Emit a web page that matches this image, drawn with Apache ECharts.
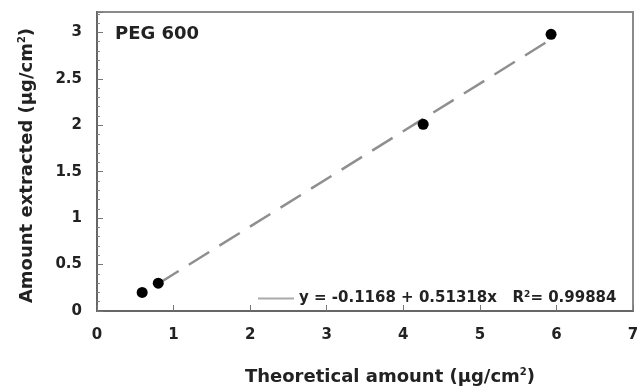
<!DOCTYPE html>
<html>
<head>
<meta charset="utf-8">
<script src="https://cdn.jsdelivr.net/npm/echarts@6/dist/echarts.min.js"></script>
<style>
  html, body { margin: 0; padding: 0; background: #fff; }
  #chart { width: 642px; height: 391px; }
</style>
</head>
<body>
<div id="chart"></div>
<script>
// Measured points: theoretical vs. extracted amount (µg/cm²)
var theoretical = [0.59, 0.80, 4.26, 5.93];
var extracted   = [0.20, 0.30, 2.01, 2.98];

// Linear fit reported in the legend
var intercept = -0.1168;
var slope = 0.51318;
var rSquared = '0.99884';
var fitRange = [0.80, 5.93];

var xTicks = [0, 1, 2, 3, 4, 5, 6, 7];
var yTicks = [0, 0.5, 1, 1.5, 2, 2.5, 3];

var points = theoretical.map(function (x, i) { return [x, extracted[i]]; });
var fitLine = fitRange.map(function (x) { return [x, intercept + slope * x]; });

var font = '"DejaVu Sans", "Liberation Sans", Arial, sans-serif';
var textColor = '#222';
var fitName = 'y = ' + intercept + ' + ' + slope + 'x   R{sup|2}= ' + rSquared;

function supStyle(size, pad) {
  return { sup: { fontFamily: font, fontWeight: 'bold', fontSize: size, color: textColor, verticalAlign: 'top', padding: [0, 0, pad, 0] } };
}

var chart = echarts.init(document.getElementById('chart'));
chart.setOption({
  animation: false,
  backgroundColor: '#fff',
  grid: {
    left: 97, right: 9, top: 12, bottom: 77,
    show: true, borderColor: '#8a8a8a', borderWidth: 2
  },
  xAxis: {
    type: 'value', min: xTicks[0], max: xTicks[xTicks.length - 1], interval: 1,
    name: 'Theoretical amount (µg/cm{sup|2})',
    nameLocation: 'middle', nameGap: 56,
    nameTextStyle: {
      fontFamily: font, fontWeight: 'bold', fontSize: 18, color: textColor,
      padding: [0, 0, 0, 50],
      rich: supStyle(10, 10)
    },
    axisLine: { show: true, lineStyle: { color: '#666', width: 2 } },
    axisTick: { show: true, inside: true, length: 6, lineStyle: { color: '#777', width: 1 } },
    axisLabel: { fontFamily: font, fontWeight: 'bold', fontSize: 15, color: textColor, margin: 17 },
    splitLine: { show: false }
  },
  yAxis: {
    type: 'value', min: yTicks[0], max: 3.22, interval: 0.5,
    name: 'Amount extracted (µg/cm{sup|2})',
    nameLocation: 'middle', nameGap: 60,
    nameTextStyle: {
      fontFamily: font, fontWeight: 'bold', fontSize: 18, color: textColor,
      padding: [0, 8, 0, 0],
      rich: supStyle(10, 10)
    },
    axisLine: { show: true, lineStyle: { color: '#666', width: 2 } },
    axisTick: { show: true, inside: true, length: 6, lineStyle: { color: '#777', width: 1 } },
    minorTick: { show: true, splitNumber: 5, length: 3, lineStyle: { color: '#888' } },
    axisLabel: {
      fontFamily: font, fontWeight: 'bold', fontSize: 15, color: textColor, margin: 15,
      formatter: function (v) { return yTicks.indexOf(v) >= 0 ? String(v) : ''; }
    },
    splitLine: { show: false }
  },
  legend: {
    show: true,
    data: [{ name: fitName }],
    left: 252, top: 285,
    itemWidth: 36, itemHeight: 10, itemGap: 5,
    itemStyle: { opacity: 0 },
    lineStyle: { width: 2, color: '#aaa', type: 'solid' },
    textStyle: {
      fontFamily: font, fontWeight: 'bold', fontSize: 15, color: textColor,
      rich: supStyle(9, 8)
    },
    formatter: function (n) { return n; }
  },
  graphic: [{
    type: 'text', left: 115, top: 25,
    style: { text: 'PEG 600', fontFamily: font, fontWeight: 'bold', fontSize: 18, fill: textColor }
  }],
  series: [{
    name: fitName,
    type: 'line',
    data: fitLine,
    showSymbol: false,
    symbol: 'none',
    lineStyle: { color: '#8f8f8f', width: 2.5, type: [24, 12] },
    itemStyle: { color: '#8f8f8f' },
    z: 2
  }, {
    name: 'data',
    type: 'scatter',
    data: points,
    symbol: 'circle',
    symbolSize: 11,
    itemStyle: { color: '#000', opacity: 1 },
    z: 3
  }]
});
</script>
</body>
</html>
